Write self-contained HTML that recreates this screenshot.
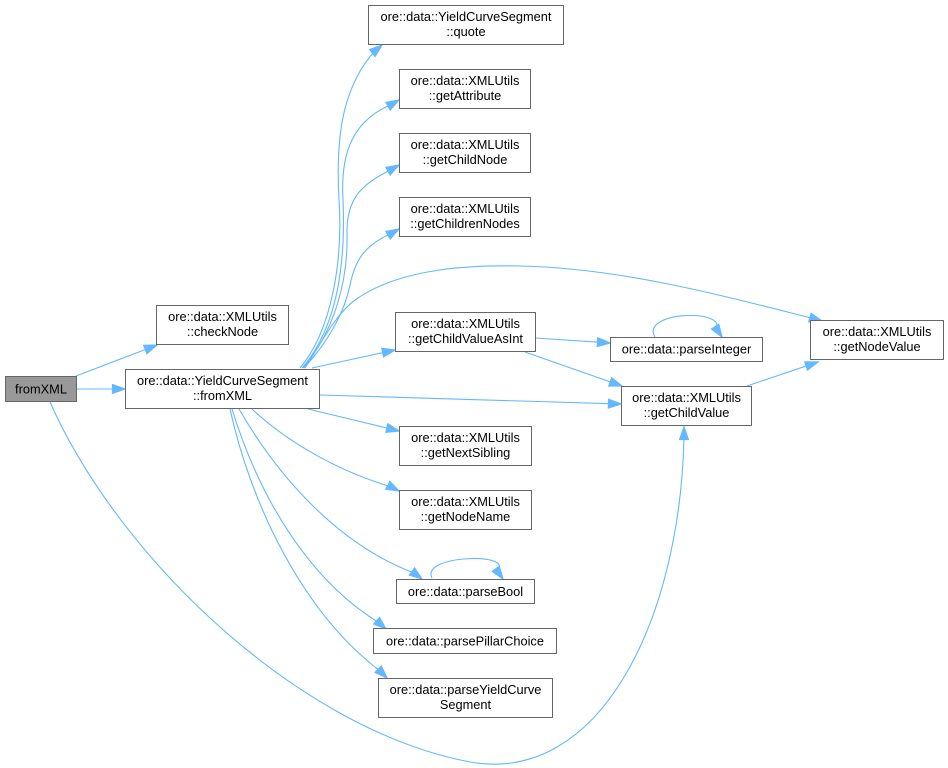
<!DOCTYPE html>
<html>
<head>
<meta charset="utf-8">
<style>
html,body{margin:0;padding:0;background:#fff;}
svg{display:block;}
text{font-family:"Liberation Sans",Arial,sans-serif;font-size:12.8px;fill:#000;text-anchor:middle;}
.n{fill:#fff;stroke:#666;stroke-width:1;}
.e{fill:none;stroke:#63b8ff;stroke-width:1.1;}
.a{fill:#63b8ff;stroke:#63b8ff;stroke-width:1;}
</style>
</head>
<body>
<svg width="948" height="768" viewBox="0 0 948 768" xmlns="http://www.w3.org/2000/svg">
<rect width="948" height="768" fill="#fff"/>

<!-- edges -->
<path class="e" d="M76,376 L147.7,348.6"/>
<polygon class="a" transform="translate(157,345) scale(1.25) translate(-157,-345)" points="148.9,351.9 157,345 146.4,345.3"/>

<path class="e" d="M77,389 L115,389"/>
<polygon class="a" transform="translate(125,389) scale(1.25) translate(-125,-389)" points="115,385.5 125,389 115,392.5"/>

<path class="e" d="M50,402 C120,560 300,730 470,762 C600,785 680,620 684,437"/>
<polygon class="a" transform="translate(684,427) scale(1.25) translate(-684,-427)" points="680.5,437 684,427 687.5,437"/>

<path class="e" d="M300,368 C332,330 343,260 339,200 C335,130 345,85 374.3,51.4"/>
<polygon class="a" transform="translate(382,45) scale(1.25) translate(-382,-45)" points="376.5,54.1 382,45 372.1,48.7"/>

<path class="e" d="M302,368 C335,330 346,270 343,200 C340,150 355,120 390.3,105"/>
<polygon class="a" transform="translate(399,100) scale(1.25) translate(-399,-100)" points="392,108 399,100 388.6,102"/>

<path class="e" d="M303,368 C335,330 348,280 347,235 C346,200 360,185 390.3,170"/>
<polygon class="a" transform="translate(399,165) scale(1.25) translate(-399,-165)" points="392,173 399,165 388.6,167"/>

<path class="e" d="M304,368 C330,340 345,310 350,285 C355,260 365,245 390.3,234"/>
<polygon class="a" transform="translate(399,229) scale(1.25) translate(-399,-229)" points="392,237 399,229 388.6,231"/>

<path class="e" d="M305,368 C320,345 335,315 355,300 C400,268 470,265 520,266 C620,268 720,295 812.4,318.3"/>
<polygon class="a" transform="translate(822,321) scale(1.25) translate(-822,-321)" points="811.4,321.7 822,321 813.3,314.9"/>

<path class="e" d="M312,368 L385.2,352.1"/>
<polygon class="a" transform="translate(395,350) scale(1.25) translate(-395,-350)" points="385.9,355.5 395,350 384.5,348.7"/>

<path class="e" d="M320,395 L611,403.7"/>
<polygon class="a" transform="translate(621,404) scale(1.25) translate(-621,-404)" points="610.9,407.2 621,404 611.1,400.2"/>

<path class="e" d="M308,409 L389.3,428.6"/>
<polygon class="a" transform="translate(399,431) scale(1.25) translate(-399,-431)" points="388.5,432 399,431 390.1,425.2"/>

<path class="e" d="M252,409 C285,440 335,470 390.1,486.5"/>
<polygon class="a" transform="translate(399,491) scale(1.25) translate(-399,-491)" points="388.5,489.6 399,491 391.7,483.4"/>

<path class="e" d="M239,409 C280,480 340,545 414,573"/>
<polygon class="a" transform="translate(422,579) scale(1.25) translate(-422,-579)" points="411.9,575.8 422,579 416.1,570.2"/>

<path class="e" d="M232,409 C260,500 310,580 378.5,622.4"/>
<polygon class="a" transform="translate(386,629) scale(1.25) translate(-386,-629)" points="376.2,625 386,629 380.8,619.8"/>

<path class="e" d="M230,409 C250,500 300,610 380,671"/>
<polygon class="a" transform="translate(387,678) scale(1.25) translate(-387,-678)" points="377.5,673.5 387,678 382.5,668.5"/>

<path class="e" d="M535,338 L600,342.3"/>
<polygon class="a" transform="translate(610,343) scale(1.25) translate(-610,-343)" points="599.8,345.8 610,343 600.2,338.8"/>

<path class="e" d="M525,352 L612.6,382.7"/>
<polygon class="a" transform="translate(622,386) scale(1.25) translate(-622,-386)" points="611.4,386 622,386 613.8,379.4"/>

<path class="e" d="M747,386 L808.5,365.2"/>
<polygon class="a" transform="translate(818,362) scale(1.25) translate(-818,-362)" points="809.6,368.5 818,362 807.4,361.9"/>

<!-- self loops -->
<path class="e" d="M655,337 C640,312 725,308 716.5,328.7"/>
<polygon class="a" transform="translate(722,337) scale(1.25) translate(-722,-337)" points="713.6,330.6 722,337 719.4,326.8"/>
<path class="e" d="M432,578 C420,555 515,552 497.2,570.9"/>
<polygon class="a" transform="translate(503,579) scale(1.25) translate(-503,-579)" points="494.4,572.9 503,579 500,568.9"/>

<!-- nodes -->
<rect class="n" x="368.5" y="5.5" width="195" height="39"/>
<text x="466" y="21">ore::data::YieldCurveSegment</text>
<text x="466" y="36">::quote</text>

<rect class="n" x="399.5" y="69.5" width="131" height="39"/>
<text x="465" y="85">ore::data::XMLUtils</text>
<text x="465" y="100">::getAttribute</text>

<rect class="n" x="399.5" y="133.5" width="131" height="39"/>
<text x="465" y="149">ore::data::XMLUtils</text>
<text x="465" y="164">::getChildNode</text>

<rect class="n" x="399.5" y="197.5" width="131" height="39"/>
<text x="465" y="213">ore::data::XMLUtils</text>
<text x="465" y="228">::getChildrenNodes</text>

<rect class="n" x="156.5" y="305.5" width="132" height="39"/>
<text x="222.5" y="321">ore::data::XMLUtils</text>
<text x="222.5" y="336">::checkNode</text>

<rect class="n" x="395.5" y="312.5" width="140" height="39"/>
<text x="465.5" y="328">ore::data::XMLUtils</text>
<text x="465.5" y="343">::getChildValueAsInt</text>

<rect class="n" x="610.5" y="337.5" width="152" height="24"/>
<text x="686.5" y="353.5">ore::data::parseInteger</text>

<rect class="n" x="810.5" y="320.5" width="133" height="39"/>
<text x="877" y="336">ore::data::XMLUtils</text>
<text x="877" y="351">::getNodeValue</text>

<rect x="5.5" y="376.5" width="71" height="25" fill="#999" stroke="#666" stroke-width="1"/>
<text x="41" y="393.5">fromXML</text>

<rect class="n" x="125.5" y="369.5" width="194" height="39"/>
<text x="222.5" y="385">ore::data::YieldCurveSegment</text>
<text x="222.5" y="400">::fromXML</text>

<rect class="n" x="621.5" y="386.5" width="130" height="39"/>
<text x="686.5" y="402">ore::data::XMLUtils</text>
<text x="686.5" y="417">::getChildValue</text>

<rect class="n" x="399.5" y="426.5" width="132" height="39"/>
<text x="465.5" y="442">ore::data::XMLUtils</text>
<text x="465.5" y="457">::getNextSibling</text>

<rect class="n" x="399.5" y="490.5" width="132" height="39"/>
<text x="465.5" y="506">ore::data::XMLUtils</text>
<text x="465.5" y="521">::getNodeName</text>

<rect class="n" x="396.5" y="579.5" width="138" height="24"/>
<text x="465.5" y="596">ore::data::parseBool</text>

<rect class="n" x="373.5" y="628.5" width="183" height="25"/>
<text x="465" y="645.5">ore::data::parsePillarChoice</text>

<rect class="n" x="378.5" y="678.5" width="174" height="39"/>
<text x="465.5" y="694">ore::data::parseYieldCurve</text>
<text x="465.5" y="709">Segment</text>
</svg>
</body>
</html>
